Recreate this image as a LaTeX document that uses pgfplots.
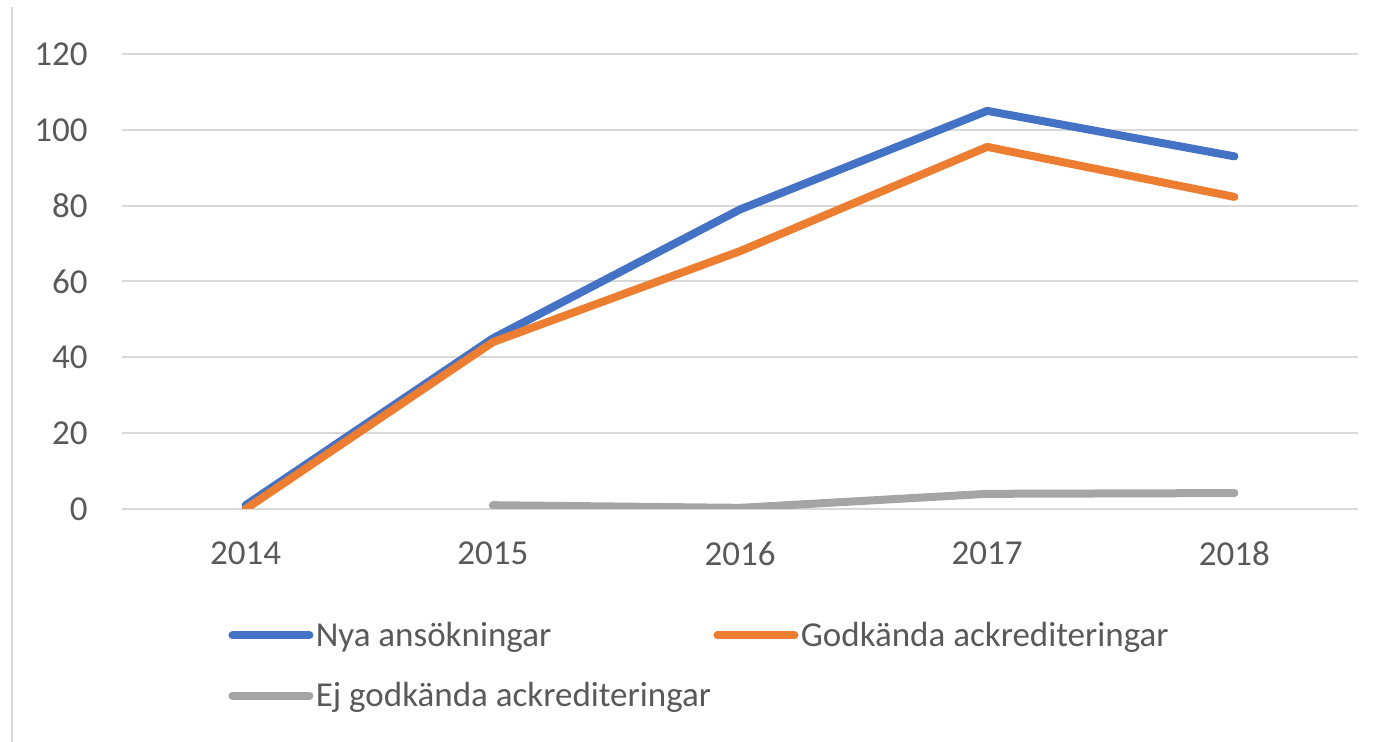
\documentclass[border=0pt]{standalone}
\usepackage{pgfplots}
\pgfplotsset{compat=1.18}
\usepackage{fontspec}
\setmainfont{Carlito}
\definecolor{cblue}{HTML}{4472C4}
\definecolor{corange}{HTML}{ED7D31}
\definecolor{cgray}{HTML}{A5A5A5}
\definecolor{cgrid}{HTML}{D9D9D9}
\definecolor{ctext}{HTML}{595959}
\begin{document}
\begin{tikzpicture}
\begin{axis}[
  at={(0pt,0pt)}, anchor=south west,
  scale only axis, width=618pt, height=227.5pt,
  xmin=-0.5, xmax=4.5, ymin=0, ymax=120,
  xtick={0,1,2,3,4}, xticklabels={2014,2015,2016,2017,2018},
  ytick={0,20,...,120},
  axis line style={draw=none},
  major tick length=0pt,
  ymajorgrids, grid style={cgrid, line width=1pt},
  tick label style={font=\fontsize{17.5}{21}\selectfont, text=ctext},
  /pgf/number format/assume math mode=true,
  y tick label style={inner sep=0pt, xshift=-17pt},
  x tick label style={inner sep=0pt, yshift=-16pt, anchor=north},
  legend columns=2,
  legend style={draw=none, fill=none, inner sep=0pt, at={(0.0858,-0.344)}, anchor=west,
    font=\fontsize{17.5}{21}\selectfont, text=ctext,
    nodes={inner sep=1.2pt},
    /tikz/every even column/.style={column sep=0pt},
    row sep=14pt},
  legend cell align=left,
  legend image code/.code={\draw[#1, line cap=round] (0pt,0pt) -- (38.5pt,0pt);},
  every axis plot/.append style={line width=4pt, line cap=round, line join=round},
]
\addplot[cblue] coordinates {(0,1) (1,45) (2,79) (3,105) (4,93)};
\addlegendentry{Nya ansökningar}
\addplot[corange] coordinates {(0,0) (1,44) (2,68) (3,95.5) (4,82.3)};
\addlegendentry{Godkända ackrediteringar}
\addplot[cgray] coordinates {(1,1) (2,0.3) (3,4) (4,4.2)};
\addlegendentry{Ej godkända ackrediteringar}
\end{axis}
\draw[cgrid, line width=1.2pt] (-55pt,251pt) -- (-55pt,-116.5pt);
\pgfresetboundingbox
\useasboundingbox (-61pt,-116.5pt) rectangle (636.5pt,254.5pt);
\end{tikzpicture}
\end{document}
